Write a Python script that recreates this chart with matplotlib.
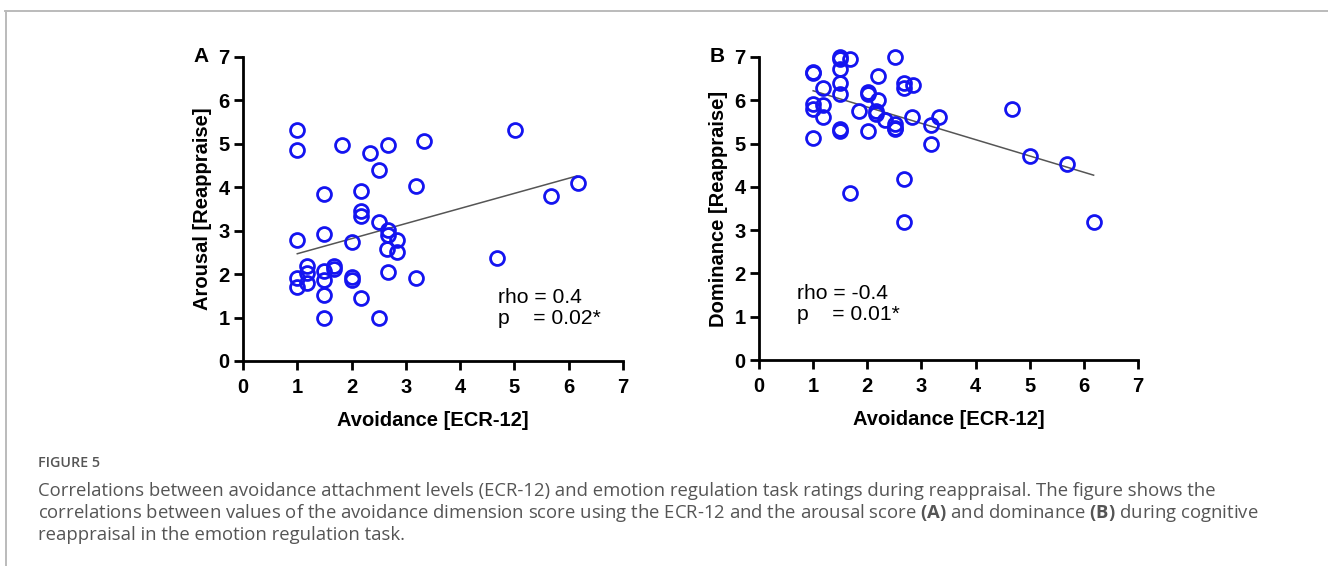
import matplotlib.pyplot as plt
from matplotlib.lines import Line2D

# Panel A: avoidance vs arousal
a_x = [1.0, 1.0, 1.83, 2.34, 2.68, 3.34, 5.01, 2.50, 3.18, 6.18, 5.68, 1.49, 2.18, 2.18,
       2.18, 2.50, 1.49, 1.0, 2.0, 2.68, 2.68, 2.83, 2.83, 2.66, 4.67, 2.68, 3.18, 1.17,
       1.17, 1.17, 1.0, 1.0, 1.49, 1.49, 1.49, 1.67, 1.67, 2.0, 2.0, 2.18, 1.49, 2.50]
a_y = [5.31, 4.86, 4.98, 4.78, 4.98, 5.06, 5.31, 4.39, 4.04, 4.11, 3.79, 3.85, 3.92, 3.46,
       3.33, 3.19, 2.93, 2.79, 2.73, 3.01, 2.91, 2.79, 2.52, 2.57, 2.38, 2.04, 1.91, 2.19,
       2.02, 1.79, 1.92, 1.71, 2.08, 1.87, 1.51, 2.19, 2.11, 1.93, 1.87, 1.45, 0.98, 0.98]
a_fit_x = [1.0, 6.15]
a_fit_y = [2.47, 4.26]

# Panel B: avoidance vs dominance
b_x = [1.5, 1.5, 1.68, 2.51, 1.5, 1.0, 1.0, 1.5, 1.5, 1.18, 2.19, 2.67, 2.67, 2.85,
       2.01, 2.01, 2.19, 1.0, 1.0, 1.19, 1.18, 1.84, 2.17, 2.17, 2.33, 2.51, 2.51, 2.51,
       2.82, 3.17, 3.33, 3.17, 1.5, 1.5, 2.01, 1.0, 4.67, 5.01, 5.69, 2.68, 1.68, 2.68, 6.18]
b_y = [7.0, 6.96, 6.95, 7.0, 6.72, 6.66, 6.62, 6.41, 6.15, 6.28, 6.55, 6.41, 6.29, 6.35,
       6.2, 6.15, 6.0, 5.92, 5.8, 5.88, 5.61, 5.75, 5.75, 5.68, 5.54, 5.45, 5.37, 5.33,
       5.61, 5.42, 5.61, 5.0, 5.33, 5.28, 5.28, 5.12, 5.81, 4.71, 4.52, 4.19, 3.85, 3.18, 3.18]
b_fit_x = [1.0, 6.18]
b_fit_y = [6.22, 4.27]

ticks = [0, 1, 2, 3, 4, 5, 6, 7]
W, H = 1328, 566
blue = '#1414f0'

plt.rcParams['font.family'] = ['Liberation Sans', 'DejaVu Sans']
plt.rcParams['mathtext.fontset'] = 'custom'
plt.rcParams['mathtext.bf'] = 'Open Sans:bold'
fig = plt.figure(figsize=(W / 100, H / 100), dpi=100)


def px_axes(left, right, top, bottom):
    return fig.add_axes([left / W, 1 - bottom / H, (right - left) / W, (bottom - top) / H])


panels = [
    (px_axes(243, 623, 57, 361), a_x, a_y, a_fit_x, a_fit_y, 'Arousal [Reappraise]', 'A',
     'rho = 0.4\np    = 0.02*', 4.7, 1.68),
    (px_axes(759, 1138, 57, 360), b_x, b_y, b_fit_x, b_fit_y, 'Dominance [Reappraise]', 'B',
     'rho = -0.4\np    = 0.01*', 0.7, 1.75),
]

for ax, x, y, fx, fy, ylab, letter, stat, tx, ty in panels:
    ax.plot(fx, fy, color='#555555', lw=1.1, zorder=2)
    ax.plot(x, y, 'o', ms=10, mfc='none', mec=blue, mew=2.0, clip_on=False, zorder=3)
    ax.set_xlim(0, 7)
    ax.set_ylim(0, 7)
    ax.set_xticks(ticks)
    ax.set_yticks(ticks)
    for s in ['top', 'right']:
        ax.spines[s].set_visible(False)
    for s in ['left', 'bottom']:
        ax.spines[s].set_linewidth(2.0)
    ax.tick_params(width=2.0, length=6.5, labelsize=14.5)
    ax.tick_params(axis='x', pad=6)
    ax.tick_params(axis='y', pad=3)
    for lab in ax.get_xticklabels() + ax.get_yticklabels():
        lab.set_fontweight('bold')
    ax.set_xlabel('Avoidance [ECR-12]', fontsize=14.5, fontweight='bold', labelpad=10)
    ax.set_ylabel(ylab, fontsize=14.5, fontweight='bold', labelpad=5)
    ax.text(-0.09, 1.0, letter, transform=ax.transAxes, fontsize=15, fontweight='bold',
            va='center', ha='right')
    ax.text(tx, ty, stat, fontsize=15.2, va='top', ha='left', linespacing=1.15)

# card border (top and left)
fig.add_artist(Line2D([5 / W, 1], [1 - 11 / H, 1 - 11 / H], color='#bbbbbb', lw=1.4))
fig.add_artist(Line2D([6 / W, 6 / W], [1 - 11 / H, 0], color='#bbbbbb', lw=1.4))

fig.text(38 / W, 1 - 463 / H, 'FIGURE 5', fontsize=10.3, color='#555555',
         family='Open Sans', fontweight='semibold', va='center')
caption = ('Correlations between avoidance attachment levels (ECR-12) and emotion regulation task '
           'ratings during reappraisal. The figure shows the\n'
           'correlations between values of the avoidance dimension score using the ECR-12 and the '
           'arousal score $\\mathbf{(A)}$ and dominance $\\mathbf{(B)}$ during cognitive\n'
           'reappraisal in the emotion regulation task.')
fig.text(38 / W, 1 - 482 / H, caption, fontsize=13.3, color='#555555', family='Open Sans',
         va='top', linespacing=1.13)

fig.savefig('out.png', dpi=100)
